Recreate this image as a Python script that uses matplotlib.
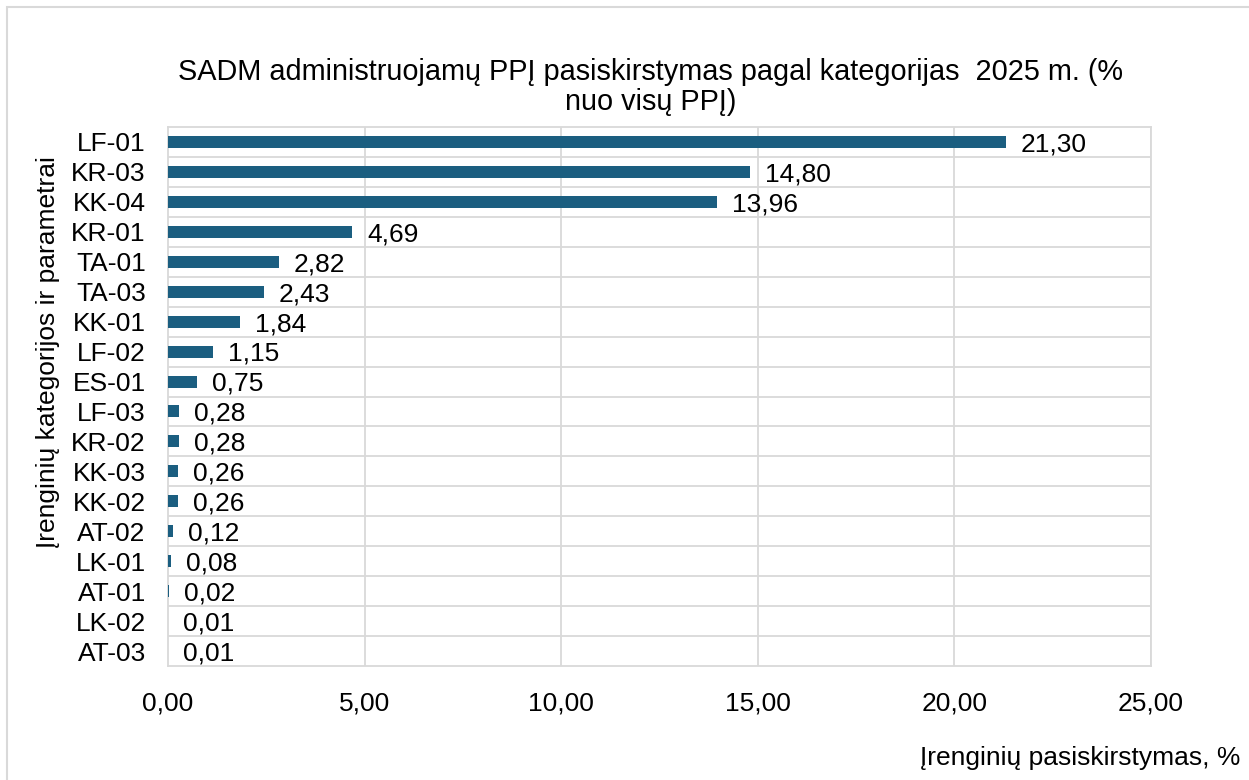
import numpy as np
import matplotlib.pyplot as plt
from matplotlib.patches import Rectangle

plt.rcParams['font.family'] = ['Liberation Sans', 'DejaVu Sans']

kategorijos = ['LF-01', 'KR-03', 'KK-04', 'KR-01', 'TA-01', 'TA-03', 'KK-01', 'LF-02', 'ES-01',
               'LF-03', 'KR-02', 'KK-03', 'KK-02', 'AT-02', 'LK-01', 'AT-01', 'LK-02', 'AT-03']
reiksmes = [21.30, 14.80, 13.96, 4.69, 2.82, 2.43, 1.84, 1.15, 0.75,
            0.28, 0.28, 0.26, 0.26, 0.12, 0.08, 0.02, 0.01, 0.01]
x_ticks = [0, 5, 10, 15, 20, 25]

fs = 19

fig = plt.figure(figsize=(12.49, 7.80), dpi=100)
ax = fig.add_axes([168 / 1249, 1 - 666 / 780, (1151 - 168) / 1249, (666 - 127) / 780])

# outer chart frame (cut off at right and bottom)
fig.patches.append(Rectangle((7 / 1249, -0.1), 1.2, 1 - 7 / 780 + 0.1, transform=fig.transFigure,
                             fill=False, edgecolor='#d9d9d9', linewidth=1.5))

y = np.arange(len(kategorijos))
ax.barh(y, reiksmes, height=0.4, color='#1b5e80', zorder=3)
for yi, v in zip(y, reiksmes):
    ax.text(v + 0.38, yi + 0.08, f'{v:.2f}'.replace('.', ','), va='center', ha='left', fontsize=fs)

ax.set_ylim(len(kategorijos) - 0.5, -0.5)
ax.set_xlim(0, 25)
ax.set_yticks(y)
ax.set_yticklabels(kategorijos, fontsize=fs)
ax.set_xticks(x_ticks)
ax.set_xticklabels([f'{t:.2f}'.replace('.', ',') for t in x_ticks], fontsize=fs)
ax.tick_params(length=0)
ax.tick_params(axis='y', pad=16)
ax.tick_params(axis='x', pad=18)

# grid: vertical at ticks, horizontal between categories
for t in x_ticks[1:]:
    ax.axvline(t, color='#d9d9d9', linewidth=1.3, zorder=1)
for b in np.arange(0.5, len(kategorijos) - 1, 1):
    ax.axhline(b, color='#d9d9d9', linewidth=1.3, zorder=1)
for s in ax.spines.values():
    s.set_color('#d9d9d9')
    s.set_linewidth(1.3)

fig.text(651 / 1249, 1 - 87 / 780, 'SADM administruojamų PPĮ pasiskirstymas pagal kategorijas  2025 m. (%\nnuo visų PPĮ)',
         ha='center', va='center', fontsize=20.8, linespacing=1.13)
fig.text(48 / 1249, 1 - 352 / 780, 'Įrenginių kategorijos ir parametrai', rotation=90,
         ha='center', va='center', fontsize=fs)
fig.text(1240 / 1249, 1 - 758 / 780, 'Įrenginių pasiskirstymas, %', ha='right', va='center', fontsize=fs)

plt.savefig('out.png', dpi=100)
